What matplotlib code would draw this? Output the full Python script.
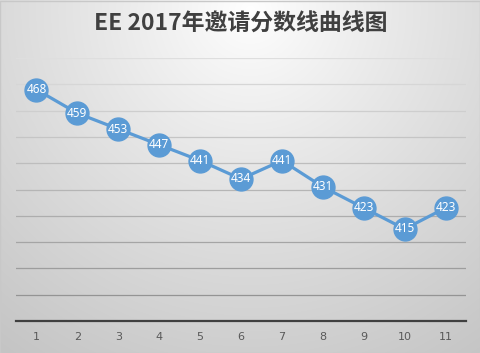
import numpy as np
import matplotlib
matplotlib.use("Agg")
import matplotlib.pyplot as plt
from matplotlib.patches import Rectangle

plt.rcParams['font.family'] = ['Noto Sans CJK SC', 'DejaVu Sans']

categories = [1, 2, 3, 4, 5, 6, 7, 8, 9, 10, 11]
scores = [468, 459, 453, 447, 441, 434, 441, 431, 423, 415, 423]
title = "EE 2017年邀请分数线曲线图"
y_min, y_max, y_step = 380, 480, 10

W, H = 481, 353
fig = plt.figure(figsize=(W / 100, H / 100), dpi=100)

# background radial gradient
bg = fig.add_axes([0, 0, 1, 1], zorder=-10)
yy, xx = np.mgrid[0:H, 0:W]
d = np.sqrt(((xx - 250) / 1.0) ** 2 + ((yy - 10) / 1.0) ** 2) / 420.0
d = np.clip(d, 0, 1)
top, bot = 1.0, 0.77
val = top - (top - bot) * d ** 0.9
img = np.dstack([val, val, val])
bg.imshow(img, aspect='auto', extent=[0, 1, 0, 1], origin='upper')
bg.set_xlim(0, 1); bg.set_ylim(0, 1)
bg.axis('off')
bg.add_patch(Rectangle((0.001, 0.001), 0.997, 0.996, transform=bg.transAxes,
                       fill=False, edgecolor='#c8c8c8', lw=1))

ax = fig.add_axes([16 / W, 1 - 321 / H, 450 / W, 263 / H])
ax.patch.set_alpha(0)
ax.set_xlim(0.5, len(categories) + 0.5)
ax.set_ylim(y_min, y_max)

# gridlines with colors darkening towards the bottom
levels = np.arange(y_min + y_step, y_max + 1, y_step)
for lv in levels:
    t = (lv - y_min) / (y_max - y_min)
    g = 0.55 + 0.32 * t
    ax.axhline(lv, color=(g, g, g), lw=0.9, zorder=1)

for s in ['top', 'right', 'left']:
    ax.spines[s].set_visible(False)
ax.spines['bottom'].set_color('#404040')
ax.spines['bottom'].set_linewidth(1.6)
ax.set_yticks([])
ax.set_xticks(categories)
ax.set_xticklabels([str(c) for c in categories], color='#595959', fontsize=8,
                   family=['DejaVu Sans'])
ax.tick_params(axis='x', length=0, pad=8)

ax.plot(categories, scores, color='#5b9bd5', lw=2.3, marker='o', markersize=16.5,
        markerfacecolor='#5b9bd5', markeredgecolor='#5b9bd5', zorder=3)
for x, y in zip(categories, scores):
    ax.text(x, y, str(y), ha='center', va='center', color='white', fontsize=8.5,
            fontweight='semibold', zorder=4, family=['Noto Sans'])

fig.text(0.5, 1 - 24 / H, title, ha='center', va='center', fontsize=16.5,
         fontweight='bold', color='#404040')

fig.savefig('out.png', dpi=100)
